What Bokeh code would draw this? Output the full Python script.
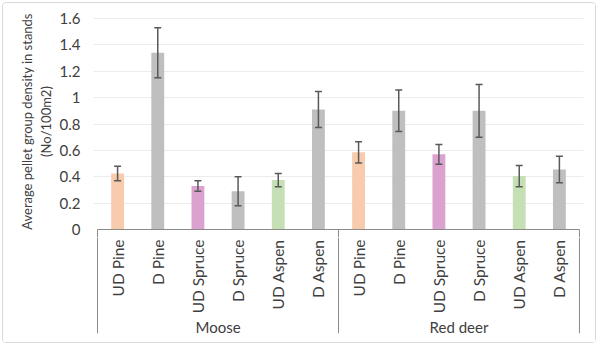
import math
from bokeh.plotting import figure
from bokeh.layouts import column
from bokeh.models import (FactorRange, ColumnDataSource, Whisker, TeeHead, FixedTicker,
                          CustomJSTickFormatter, Range1d)
from bokeh.core.properties import value
from bokeh.embed import file_html
from bokeh.resources import INLINE

# ---- data ----
groups = ["Moose", "Red deer"]
stands = ["UD Pine", "D Pine", "UD Spruce", "D Spruce", "UD Aspen", "D Aspen"]
moose_mean = [0.425, 1.34, 0.33, 0.29, 0.375, 0.91]
moose_err = [0.055, 0.19, 0.04, 0.11, 0.05, 0.137]
deer_mean = [0.585, 0.90, 0.57, 0.90, 0.405, 0.455]
deer_err = [0.08, 0.157, 0.075, 0.20, 0.08, 0.10]
stand_colors = ["#F8CBAD", "#BFBFBF", "#DCA2CF", "#BFBFBF", "#C5E0B4", "#BFBFBF"]
y_ticks = [0, 0.2, 0.4, 0.6, 0.8, 1.0, 1.2, 1.4, 1.6]
y_title = "Average pellet group density in stands\n(No/100m2)"

FONT = "Lato"
TXT = "#404040"
AX = "#8a8a8a"

factors = [(g, s) for g in groups for s in stands]
means = moose_mean + deer_mean
errs = moose_err + deer_err
colors = stand_colors * len(groups)
src = ColumnDataSource(dict(
    x=factors, top=means,
    upper=[m + e for m, e in zip(means, errs)],
    lower=[m - e for m, e in zip(means, errs)],
    color=colors,
    label=[f[1] for f in factors],
    y0=[0] * len(factors),
))

x_range = FactorRange(*factors, factor_padding=0, group_padding=0,
                      range_padding=0.1, range_padding_units="absolute")
PX = 1 / 131.875  # one pixel in data units (vertical)
SPLIT = 8          # pixels of the category box drawn in the top figure

n = len(factors)
bounds = [0] + [len(stands) * (i + 1) for i in range(len(groups))]

# ---------- top: bars ----------
p = figure(width=592, height=234, x_range=x_range,
           y_range=Range1d(-SPLIT * PX, 1.6 + 13 * PX),
           output_backend="svg", toolbar_location=None, x_axis_location=None,
           min_border_left=90, min_border_right=12, min_border_top=2, min_border_bottom=0)
p.outline_line_color = None
p.xgrid.visible = False
p.ygrid.ticker = FixedTicker(ticks=y_ticks[1:])
p.ygrid.grid_line_color = "#ececec"

ya = p.yaxis[0]
ya.ticker = FixedTicker(ticks=y_ticks)
ya.formatter = CustomJSTickFormatter(code="return (Math.round(tick*10)/10).toString();")
ya.axis_line_color = None
ya.major_tick_line_color = None
ya.minor_tick_line_color = None
ya.major_tick_out = 0
ya.major_tick_in = 0
ya.major_label_standoff = 13
ya.major_label_text_font = FONT
ya.major_label_text_font_size = "15px"
ya.major_label_text_color = TXT
ya.axis_label = y_title
ya.axis_label_standoff = 3
ya.axis_label_text_font = FONT
ya.axis_label_text_font_size = "13px"
ya.axis_label_text_font_style = "normal"
ya.axis_label_text_color = TXT
ya.axis_label_text_line_height = 1.15

p.vbar(x="x", top="top", width=0.32, bottom=0, source=src, fill_color="color", line_color=None)
p.add_layout(Whisker(base="x", upper="upper", lower="lower", source=src, level="overlay",
                     line_color="#595959", line_width=1.5,
                     upper_head=TeeHead(size=7, line_color="#595959", line_width=1.5),
                     lower_head=TeeHead(size=7, line_color="#595959", line_width=1.5)))

p.segment(x0=[0], y0=[0], x1=[n], y1=[0], line_color=AX, line_width=1)
p.segment(x0=bounds, y0=[0] * len(bounds), x1=bounds, y1=[-SPLIT * PX] * len(bounds),
          line_color=AX, line_width=1)

# ---------- bottom: category axis ----------
q = figure(width=592, height=105, x_range=x_range, y_range=Range1d(-104 * PX, -SPLIT * PX),
           output_backend="svg", toolbar_location=None, x_axis_location=None,
           y_axis_location=None,
           min_border_left=90, min_border_right=12, min_border_top=0, min_border_bottom=9)
q.outline_line_color = None
q.grid.visible = False

q.segment(x0=bounds, y0=[-SPLIT * PX] * len(bounds), x1=bounds, y1=[-104 * PX] * len(bounds),
          line_color=AX, line_width=1)
q.text(x="x", y="y0", text="label", source=src, angle=math.pi / 2,
       text_align="right", text_baseline="middle", y_offset=10,
       text_font=value(FONT), text_font_size="15.5px", text_color=TXT)
q.text(x=groups, y=[0] * len(groups), text=groups, y_offset=97,
       text_align="center", text_baseline="middle",
       text_font=value(FONT), text_font_size="15px", text_color=TXT)

layout = column(p, q, spacing=0)
layout.margin = (2, 4, 3, 2)
layout.styles = {"border": "1px solid #d9d9d9", "border-radius": "4px", "background": "white"}

open("out.html", "w").write(file_html(layout, INLINE))
